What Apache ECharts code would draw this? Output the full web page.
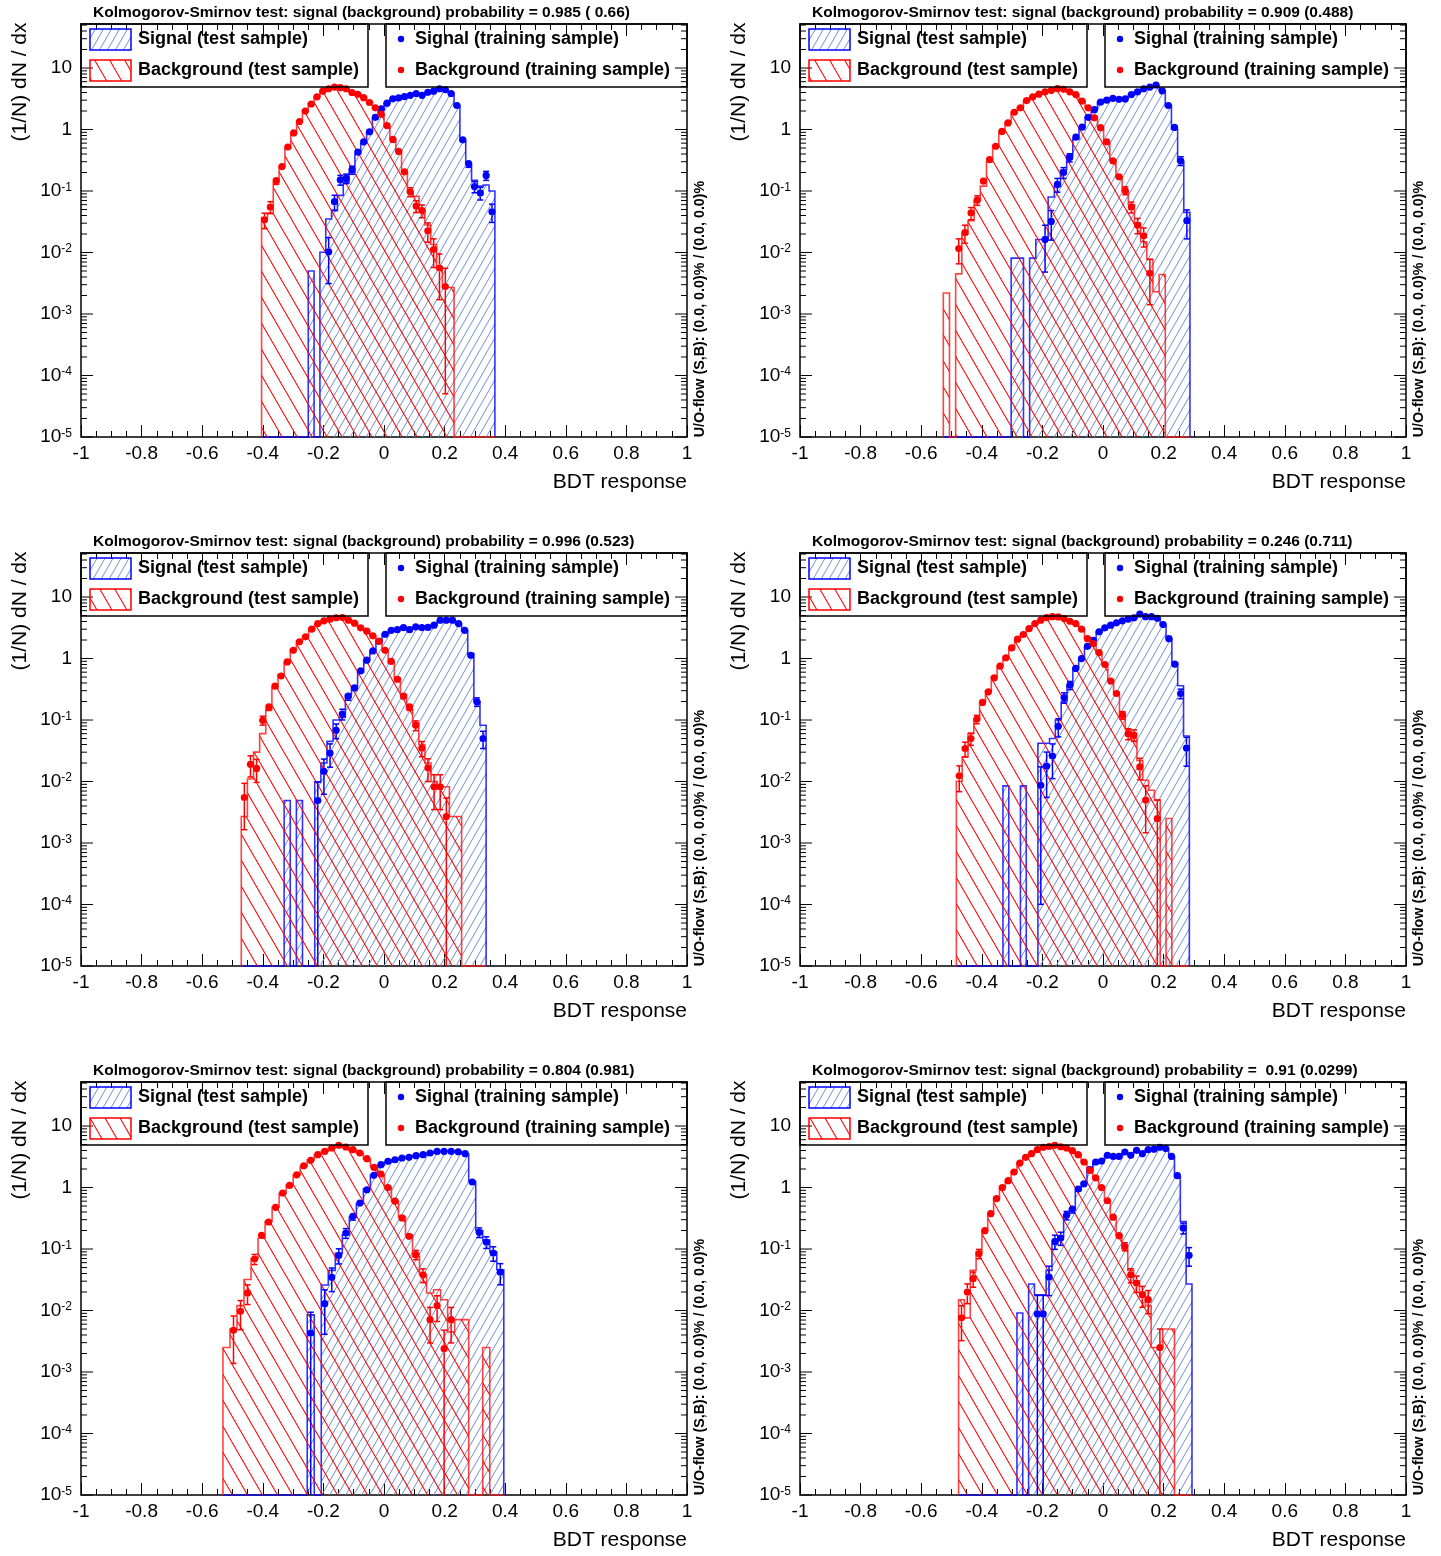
<!DOCTYPE html>
<html><head><meta charset="utf-8">
<script src="https://cdn.jsdelivr.net/npm/echarts@6/dist/echarts.min.js"></script>
<style>html,body{margin:0;padding:0;background:#fff}#c{width:1441px;height:1556px}</style>
</head><body><div id="c"></div>
<script>
// ---------------- DATA (40 bins per panel, 1/N dN/dx) ----------------
const xTicks = [-1,-0.8,-0.6,-0.4,-0.2,0,0.2,0.4,0.6,0.8,1];
const decades = [-5,-4,-3,-2,-1,0,1];

const p1_title = "Kolmogorov-Smirnov test: signal (background) probability = 0.985 ( 0.66)";
const p1_range = [-0.404, 0.366];
const p1_units = [0.005, 0.0027];
const p1_sigTest = [0,0,0,0,0,0,0,0,0.005,0,0.0101,0.035,0.048,0.085,0.136,0.2,0.4,0.6,0.9,1.5,2.1,2.7,3.1,3.3,3.4,3.6,3.8,3.7,4.0,4.3,4.5,4.4,3.9,2.4,0.65,0.27,0.15,0.12,0.125,0.10];
const p1_bkgTest = [0.037,0.044,0.136,0.25,0.5,0.85,1.35,2.0,2.6,3.4,4.2,4.6,4.9,4.8,4.6,4.0,3.7,3.3,2.75,2.25,1.8,1.15,0.7,0.45,0.2,0.095,0.082,0.05,0.028,0.0135,0.0056,0.0027,0.0027,0,0,0,0,0,0,0];
const p1_sigTrain = [0,0,0,0,0,0,0,0,0,0,0,0.0103,0.067,0.152,0.16,0.22,0.43,0.63,0.92,1.58,2.17,2.68,3.16,3.27,3.44,3.6,3.85,3.6,4.04,4.2,4.6,4.47,3.85,2.46,0.68,0.28,0.118,0.093,0.179,0.046];
const p1_bkgTrain = [0.034,0.055,0.148,0.25,0.52,0.88,1.35,2.0,2.6,3.4,4.2,4.6,4.9,4.8,4.6,4.0,3.75,3.3,2.75,2.25,1.78,1.16,0.69,0.44,0.205,0.097,0.057,0.048,0.0225,0.0112,0.0056,0.0028,0,0,0,0,0,0,0,0];

const p2_title = "Kolmogorov-Smirnov test: signal (background) probability = 0.909 (0.488)";
const p2_range = [-0.527, 0.287];
const p2_units = [0.0081, 0.0022];
const p2_sigTest = [0,0,0,0,0,0,0,0,0,0,0,0.0081,0.0081,0,0.0081,0.0163,0.0163,0.08,0.12,0.22,0.38,0.7,1.1,1.6,2.1,2.8,3.0,3.1,3.1,3.2,3.6,4.1,4.5,4.8,5.1,4.3,2.4,1.0,0.3,0.045];
const p2_bkgTest = [0.0022,0,0.0045,0.02,0.033,0.07,0.12,0.3,0.55,0.9,1.3,1.9,2.3,2.9,3.4,3.8,4.1,4.3,4.6,4.5,4.1,3.6,2.9,2.3,1.6,1.1,0.6,0.32,0.17,0.1,0.06,0.03,0.015,0.0077,0.0023,0.0044,0,0,0,0];
const p2_sigTrain = [0,0,0,0,0,0,0,0,0,0,0,0,0,0,0,0,0.0163,0.032,0.128,0.2,0.35,0.75,1.09,1.58,2.1,2.78,3.0,3.2,3.1,3.15,3.7,4.1,4.6,4.9,5.3,4.26,2.46,1.08,0.31,0.033];
const p2_bkgTrain = [0,0,0.0116,0.021,0.044,0.071,0.145,0.325,0.535,0.93,1.28,1.91,2.25,2.96,3.4,3.76,4.1,4.3,4.64,4.5,4.1,3.7,2.9,2.25,1.55,1.07,0.63,0.31,0.17,0.102,0.055,0.028,0.0187,0.0046,0,0,0,0,0,0];

const p3_title = "Kolmogorov-Smirnov test: signal (background) probability = 0.996 (0.523)";
const p3_range = [-0.471, 0.337];
const p3_units = [0.0049, 0.0027];
const p3_sigTest = [0,0,0,0,0,0,0,0.0049,0,0.0049,0,0,0.0099,0.02,0.045,0.1,0.11,0.26,0.35,0.6,0.95,1.3,1.9,2.5,2.8,3.0,3.1,3.0,3.2,3.2,3.3,3.5,4.1,4.2,4.1,3.6,2.8,1.2,0.2,0.082];
const p3_bkgTest = [0.0027,0.011,0.03,0.06,0.15,0.33,0.55,0.85,1.4,1.9,2.3,3.0,3.6,4.1,4.4,4.6,4.6,4.3,3.8,3.2,2.8,2.3,1.9,1.35,0.85,0.48,0.26,0.15,0.09,0.04,0.02,0.01,0.0082,0.0082,0.0027,0.0027,0,0,0,0];
const p3_sigTrain = [0,0,0,0,0,0,0,0,0,0,0,0,0.0049,0.0147,0.029,0.068,0.125,0.244,0.333,0.63,0.94,1.33,1.91,2.48,2.88,2.95,3.19,2.95,3.27,3.19,3.2,3.48,4.2,4.2,4.2,3.7,2.88,1.13,0.198,0.05];
const p3_bkgTrain = [0.0055,0.019,0.0163,0.099,0.164,0.355,0.52,0.88,1.36,1.87,2.25,3.0,3.7,4.1,4.36,4.6,4.65,4.2,3.76,3.16,2.78,2.34,1.91,1.36,0.9,0.46,0.244,0.164,0.082,0.035,0.0167,0.0082,0.0082,0.0027,0,0,0,0,0,0];

const p4_title = "Kolmogorov-Smirnov test: signal (background) probability = 0.246 (0.711)";
const p4_range = [-0.484, 0.285];
const p4_units = [0.0085, 0.0025];
const p4_sigTest = [0,0,0,0,0,0,0,0,0.0085,0,0,0.0085,0,0,0.042,0.042,0.05,0.1,0.2,0.37,0.7,1.0,1.5,2.0,2.7,3.1,3.5,3.8,4.1,4.3,4.6,5.0,4.8,4.7,4.4,3.5,2.1,0.85,0.36,0.055];
const p4_bkgTest = [0.0101,0.025,0.06,0.1,0.2,0.3,0.5,0.75,1.05,1.5,2.0,2.5,3.1,3.7,4.2,4.6,4.8,4.7,4.4,4.0,3.6,3.0,2.2,1.7,1.2,0.8,0.45,0.26,0.13,0.07,0.05,0.022,0.0105,0.0072,0.005,0,0.0025,0,0,0];
const p4_sigTrain = [0,0,0,0,0,0,0,0,0,0,0,0,0,0,0.0087,0.0178,0.026,0.079,0.232,0.368,0.69,1.0,1.58,1.98,2.72,3.16,3.48,3.8,4.1,4.36,4.6,5.26,4.8,4.8,4.5,3.57,2.1,0.81,0.27,0.035];
const p4_bkgTrain = [0.0124,0.0344,0.05,0.103,0.193,0.287,0.485,0.75,1.03,1.49,2.06,2.46,3.07,3.7,4.2,4.64,4.8,4.75,4.47,4.04,3.7,3.0,2.1,1.75,1.25,0.8,0.43,0.27,0.12,0.06,0.057,0.0173,0.005,0,0.0025,0,0,0,0,0];

const p5_title = "Kolmogorov-Smirnov test: signal (background) probability = 0.804 (0.981)";
const p5_range = [-0.5315, 0.3954];
const p5_units = [0.006, 0.0024];
const p5_sigTest = [0,0,0,0,0,0,0,0,0,0,0,0,0.0085,0,0.026,0.045,0.085,0.17,0.33,0.55,0.95,1.6,2.3,2.6,2.8,3.0,3.1,3.3,3.4,3.6,3.8,3.9,3.9,3.8,3.5,1.25,0.2,0.14,0.09,0.046];
const p5_bkgTest = [0.0025,0.005,0.012,0.032,0.07,0.15,0.28,0.48,0.8,1.1,1.6,2.2,2.8,3.4,3.9,4.4,4.8,4.5,4.1,3.6,2.9,2.2,1.6,1.0,0.6,0.33,0.17,0.075,0.038,0.0193,0.0218,0.015,0.0045,0.0071,0.0071,0,0,0.0025,0,0];
const p5_sigTrain = [0,0,0,0,0,0,0,0,0,0,0,0,0.0043,0,0.0129,0.0347,0.079,0.182,0.34,0.56,0.92,1.58,2.35,2.67,2.83,3.02,3.1,3.29,3.42,3.64,3.87,3.87,3.87,3.8,3.55,1.23,0.187,0.13,0.086,0.042];
const p5_bkgTrain = [0,0.00476,0.0097,0.0193,0.0688,0.167,0.275,0.476,0.814,1.08,1.61,2.26,2.77,3.42,3.87,4.39,4.85,4.56,4.12,3.64,2.94,2.13,1.66,1.0,0.6,0.32,0.161,0.081,0.038,0.0071,0.012,0.0024,0.0071,0,0,0,0,0,0,0];

const p6_title = "Kolmogorov-Smirnov test: signal (background) probability =  0.91 (0.0299)";
const p6_range = [-0.4766, 0.2937];
const p6_units = [0.0088, 0.0025];
const p6_sigTest = [0,0,0,0,0,0,0,0,0,0,0.0091,0,0.027,0.018,0.018,0.045,0.12,0.16,0.35,0.45,0.9,1.2,1.9,2.5,2.8,3.2,3.2,3.3,3.6,3.5,3.9,3.7,4.1,4.2,4.4,4.2,3.1,1.5,0.28,0.027];
const p6_bkgTest = [0.015,0.0076,0.045,0.09,0.2,0.37,0.65,1.0,1.3,1.8,2.5,3.1,3.6,4.1,4.5,4.7,4.8,4.6,4.3,3.9,3.4,2.6,1.9,1.4,1.0,0.6,0.32,0.17,0.1,0.045,0.03,0.02,0.012,0.0025,0.0025,0.005,0.005,0,0,0];
const p6_sigTrain = [0,0,0,0,0,0,0,0,0,0,0,0,0,0.0088,0.0088,0.035,0.133,0.151,0.353,0.447,0.946,1.15,1.95,2.6,2.7,3.34,3.2,3.2,3.78,3.34,4.03,3.55,4.12,4.2,4.5,4.3,3.2,1.56,0.22,0.079];
const p6_bkgTrain = [0.0076,0.02,0.033,0.084,0.199,0.375,0.658,1.0,1.29,1.79,2.5,3.1,3.55,4.12,4.5,4.65,4.85,4.6,4.39,3.97,3.42,2.6,1.9,1.43,1.0,0.61,0.33,0.165,0.11,0.038,0.028,0.018,0.015,0,0.0025,0,0,0,0,0];

const legendTexts = ["Signal (test sample)","Background (test sample)","Signal (training sample)","Background (training sample)"];
const uoText = "U/O-flow (S,B): (0.0, 0.0)% / (0.0, 0.0)%";
const yTitle = "(1/N) dN / dx";
const xTitle = "BDT response";

// ---------------- LAYOUT / STYLE ----------------
const YMIN = 1e-5, YMAX = 52;
const GW = 606, GH = 413;
const FONT = "'Liberation Sans', Arial, Helvetica, sans-serif";
const panels = [
  {gx:81,  gy:24,   title:p1_title, range:p1_range, units:p1_units, sT:p1_sigTest, bT:p1_bkgTest, sR:p1_sigTrain, bR:p1_bkgTrain},
  {gx:800, gy:24,   title:p2_title, range:p2_range, units:p2_units, sT:p2_sigTest, bT:p2_bkgTest, sR:p2_sigTrain, bR:p2_bkgTrain},
  {gx:81,  gy:553,  title:p3_title, range:p3_range, units:p3_units, sT:p3_sigTest, bT:p3_bkgTest, sR:p3_sigTrain, bR:p3_bkgTrain},
  {gx:800, gy:553,  title:p4_title, range:p4_range, units:p4_units, sT:p4_sigTest, bT:p4_bkgTest, sR:p4_sigTrain, bR:p4_bkgTrain},
  {gx:81,  gy:1082, title:p5_title, range:p5_range, units:p5_units, sT:p5_sigTest, bT:p5_bkgTest, sR:p5_sigTrain, bR:p5_bkgTrain},
  {gx:800, gy:1082, title:p6_title, range:p6_range, units:p6_units, sT:p6_sigTest, bT:p6_bkgTest, sR:p6_sigTrain, bR:p6_bkgTrain}
];

function hatchTile(color, W, H, dir, lw){
  const c = document.createElement('canvas'); c.width = W; c.height = H;
  const g = c.getContext('2d'); g.strokeStyle = color; g.lineWidth = lw;
  g.beginPath();
  for (let k=-1;k<=1;k++){
    if (dir > 0){ g.moveTo(k*W, 0); g.lineTo(k*W+W, H); }
    else { g.moveTo(k*W, H); g.lineTo(k*W+W, 0); }
  }
  g.stroke();
  return c;
}
const redPat  = {image: hatchTile('#ff0000', 15, 26, 1, 1.1), repeat:'repeat'};
const bluePat = {image: hatchTile('#6f8fd6', 8, 14, -1, 1.0), repeat:'repeat'};
const RED_LINE = 'rgba(255,20,20,0.8)';
const BLUE_LINE = 'rgba(0,0,255,0.8)';

function histRender(vals, range, pattern, stroke){
  return function(params, api){
    const n = vals.length, w = (range[1]-range[0])/n;
    const pts = [api.coord([range[0], YMIN])];
    for (let i=0;i<n;i++){
      const v = Math.max(vals[i], YMIN);
      const x0 = range[0] + i*w;
      pts.push(api.coord([x0, v]));
      pts.push(api.coord([x0 + w, v]));
    }
    pts.push(api.coord([range[1], YMIN]));
    return {type:'group', children:[
      {type:'polygon', shape:{points:pts}, style:{fill:pattern, stroke:null}},
      {type:'polyline', shape:{points:pts}, style:{fill:null, stroke:stroke, lineWidth:1.6}}
    ]};
  };
}
function pointRender(color, unit){
  return function(params, api){
    const x = api.value(0), v = api.value(1);
    const c = api.coord([x, v]);
    const err = Math.sqrt(v*unit);
    const yTop = api.coord([x, v+err])[1];
    const low = v - err;
    const yBot = api.coord([x, low > YMIN ? low : YMIN])[1];
    const r = 3.6, ch = [];
    const ls = {stroke:color, lineWidth:1.5};
    if (c[1] - yTop > r){
      ch.push({type:'line', shape:{x1:c[0], y1:c[1]-r, x2:c[0], y2:yTop}, style:ls});
      ch.push({type:'line', shape:{x1:c[0]-3, y1:yTop, x2:c[0]+3, y2:yTop}, style:ls});
    }
    if (yBot - c[1] > r){
      ch.push({type:'line', shape:{x1:c[0], y1:c[1]+r, x2:c[0], y2:yBot}, style:ls});
      if (low > YMIN) ch.push({type:'line', shape:{x1:c[0]-3, y1:yBot, x2:c[0]+3, y2:yBot}, style:ls});
    }
    ch.push({type:'circle', shape:{cx:c[0], cy:c[1], r:r}, style:{fill:color}});
    return {type:'group', children:ch};
  };
}
function tickRender(params, api){
  const v = api.value(1), major = api.value(2) === 1;
  const p = api.coord([-1, v]), q = api.coord([1, v]);
  const len = major ? 12 : 6;
  const s = {stroke:'#000', lineWidth:1};
  return {type:'group', children:[
    {type:'line', shape:{x1:p[0], y1:p[1], x2:p[0]+len, y2:p[1]}, style:s},
    {type:'line', shape:{x1:q[0]-len, y1:q[1], x2:q[0], y2:q[1]}, style:s}
  ]};
}
const tickData = [];
decades.forEach(d => { for (let m=1;m<=9;m++){ const v = m*Math.pow(10,d); if (v <= YMAX) tickData.push([0, v, m===1?1:0]); } });

function centers(range, vals){
  const w = (range[1]-range[0])/vals.length, out = [];
  vals.forEach((v,i) => { if (v > 0) out.push([range[0] + (i+0.5)*w, v]); });
  return out;
}

const grid = [], xAxis = [], yAxis = [], series = [], graphic = [];
panels.forEach((p, k) => {
  grid.push({left:p.gx, top:p.gy, width:GW, height:GH, show:true, borderColor:'#000', borderWidth:1.5, backgroundColor:'transparent', outerBoundsMode:'none'});
  const baseX = {type:'value', gridIndex:k, min:-1, max:1, interval:0.2,
    axisLine:{show:false}, splitLine:{show:false},
    axisTick:{show:true, inside:true, length:12, lineStyle:{color:'#000', width:1}},
    minorTick:{show:true, splitNumber:4, length:6, lineStyle:{color:'#000', width:1}}};
  xAxis.push(Object.assign({}, baseX, {position:'bottom',
    axisLabel:{show:true, color:'#000', fontSize:19, fontFamily:FONT, margin:7,
      formatter: v => String(Math.round(v*10)/10)}}));
  xAxis.push(Object.assign({}, baseX, {position:'top', axisLabel:{show:false}}));
  yAxis.push({type:'log', logBase:10, gridIndex:k, min:YMIN, max:YMAX,
    axisLine:{show:false}, axisTick:{show:false}, splitLine:{show:false}, minorTick:{show:false},
    axisLabel:{show:true, color:'#000', fontSize:19, fontFamily:FONT, margin:9,
      formatter: v => { const l = Math.log10(v), e = Math.round(l);
        if (Math.abs(l-e) > 1e-6) return '';
        if (e === 0) return '1'; if (e === 1) return '10';
        return '10{s|' + e + '}'; },
      rich:{s:{fontSize:12, fontFamily:FONT, color:'#000', verticalAlign:'top', lineHeight:14}}}});
  const xi = 2*k, yi = k;
  series.push({type:'custom', xAxisIndex:xi, yAxisIndex:yi, z:2, silent:true, data:[[0,1]], renderItem:histRender(p.sT, p.range, bluePat, BLUE_LINE)});
  series.push({type:'custom', xAxisIndex:xi, yAxisIndex:yi, z:3, silent:true, data:[[0,1]], renderItem:histRender(p.bT, p.range, redPat, RED_LINE)});
  series.push({type:'custom', xAxisIndex:xi, yAxisIndex:yi, z:4, silent:true, data:centers(p.range, p.sR), renderItem:pointRender('#0000ff', p.units[0])});
  series.push({type:'custom', xAxisIndex:xi, yAxisIndex:yi, z:5, silent:true, data:centers(p.range, p.bR), renderItem:pointRender('#ff0000', p.units[1])});
  series.push({type:'custom', xAxisIndex:xi, yAxisIndex:yi, z:6, silent:true, data:tickData, renderItem:tickRender});

  const gx = p.gx, gy = p.gy;
  const txt = (x, y, text, font, align, extra) => Object.assign({type:'text', x:x, y:y, z:20, silent:true,
    style:{text:text, font:font, fill:'#000', textAlign:align, align:align, textVerticalAlign:'middle', verticalAlign:'middle'}}, extra||{});
  graphic.push(txt(gx+12, gy-11, p.title, "bold 15.5px " + FONT, 'left'));
  graphic.push(txt(gx-61, gy+58, yTitle, "21px " + FONT, 'center', {rotation:Math.PI/2}));
  graphic.push(txt(gx+GW, gy+458, xTitle, "21px " + FONT, 'right'));
  graphic.push(txt(gx+619, gy+285, uoText, "bold 14.3px " + FONT, 'center', {rotation:Math.PI/2}));
  graphic.push({type:'rect', z:19, silent:true, shape:{x:gx, y:gy, width:287, height:63}, style:{fill:null, stroke:'#000', lineWidth:1.5}});
  graphic.push({type:'rect', z:19, silent:true, shape:{x:gx+305, y:gy, width:301, height:63}, style:{fill:null, stroke:'#000', lineWidth:1.5}});
  graphic.push({type:'rect', z:19, silent:true, shape:{x:gx+9, y:gy+5, width:41, height:21}, style:{fill:bluePat, stroke:'#0000ff', lineWidth:1.5}});
  graphic.push({type:'rect', z:19, silent:true, shape:{x:gx+9, y:gy+36, width:41, height:21}, style:{fill:redPat, stroke:'#ff0000', lineWidth:1.5}});
  graphic.push(txt(gx+57, gy+15, legendTexts[0], "bold 18px " + FONT, 'left'));
  graphic.push(txt(gx+57, gy+46, legendTexts[1], "bold 18px " + FONT, 'left'));
  graphic.push({type:'circle', z:19, silent:true, shape:{cx:gx+320, cy:gy+15, r:3.2}, style:{fill:'#0000ff'}});
  graphic.push({type:'circle', z:19, silent:true, shape:{cx:gx+320, cy:gy+46, r:3.2}, style:{fill:'#ff0000'}});
  graphic.push(txt(gx+334, gy+15, legendTexts[2], "bold 18px " + FONT, 'left'));
  graphic.push(txt(gx+334, gy+46, legendTexts[3], "bold 18px " + FONT, 'left'));
});

const chart = echarts.init(document.getElementById('c'), null, {renderer:'canvas'});
chart.setOption({animation:false, backgroundColor:'#fff', grid:grid, xAxis:xAxis, yAxis:yAxis, series:series, graphic:{elements:graphic}});
</script></body></html>
